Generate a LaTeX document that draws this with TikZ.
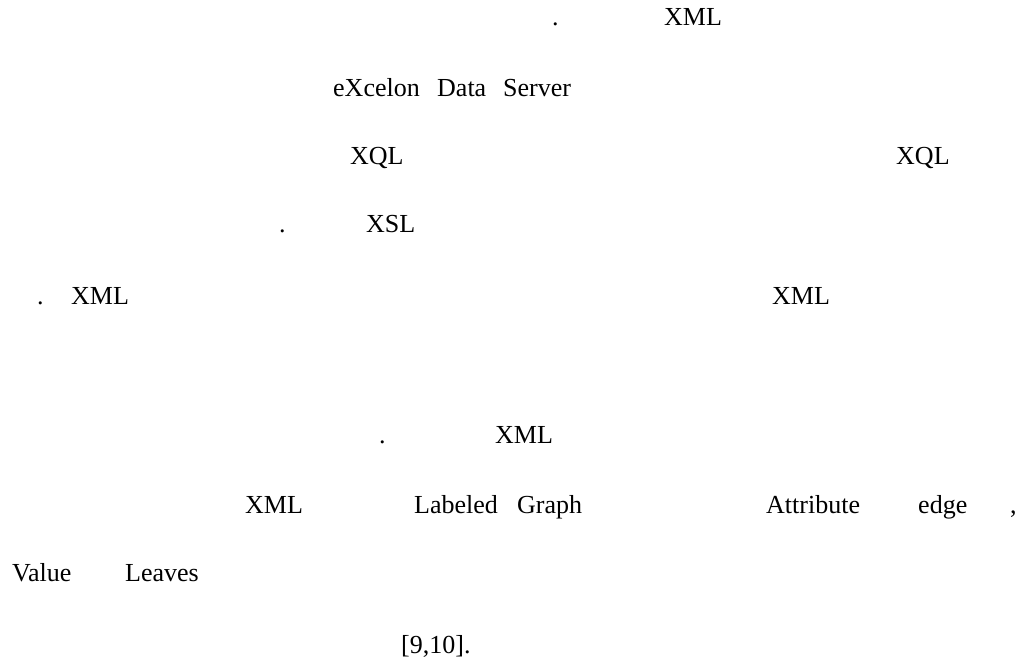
\documentclass[tikz,border=0pt]{standalone}
\usepackage{fontspec}
\setmainfont{Liberation Serif}
\usepackage{tikz}

\tikzset{
  word/.style={anchor=base west, inner sep=0pt, font=\fontsize{26}{30}\selectfont}
}

\begin{document}
\begin{tikzpicture}[x=1pt, y=-1pt]
\useasboundingbox (0,0) rectangle (1025,663);
% row 1
\node[word] (dotA) at (552,26) {.};
\node[word] (xmlA) at (664,26) {XML};
% row 2
\node[word] (excelon) at (333,97) {eXcelon};
\node[word] (data)    at (437,97) {Data};
\node[word] (server)  at (503,97) {Server};
% row 3
\node[word] (xqlA) at (350,165) {XQL};
\node[word] (xqlB) at (896,165) {XQL};
% row 4
\node[word] (dotB) at (279,233) {.};
\node[word] (xsl)  at (366,233) {XSL};
% row 5
\node[word] (dotC) at (37,304)  {.};
\node[word] (xmlB) at (71,304)  {XML};
\node[word] (xmlC) at (772,304) {XML};
% row 6
\node[word] (dotD) at (379,443) {.};
\node[word] (xmlD) at (495,443) {XML};
% row 7
\node[word] (xmlE)    at (245,513)  {XML};
\node[word] (labeled) at (414,513)  {Labeled};
\node[word] (graph)   at (517,513)  {Graph};
\node[word] (attr)    at (766,513)  {Attribute};
\node[word] (edge)    at (918,513)  {edge};
\node[word] (comma)   at (1010,513) {,};
% row 8
\node[word] (value)  at (12,581)  {Value};
\node[word] (leaves) at (125,581) {Leaves};
% row 9
\node[word] (refs) at (401,653) {[9,10].};
\end{tikzpicture}
\end{document}
